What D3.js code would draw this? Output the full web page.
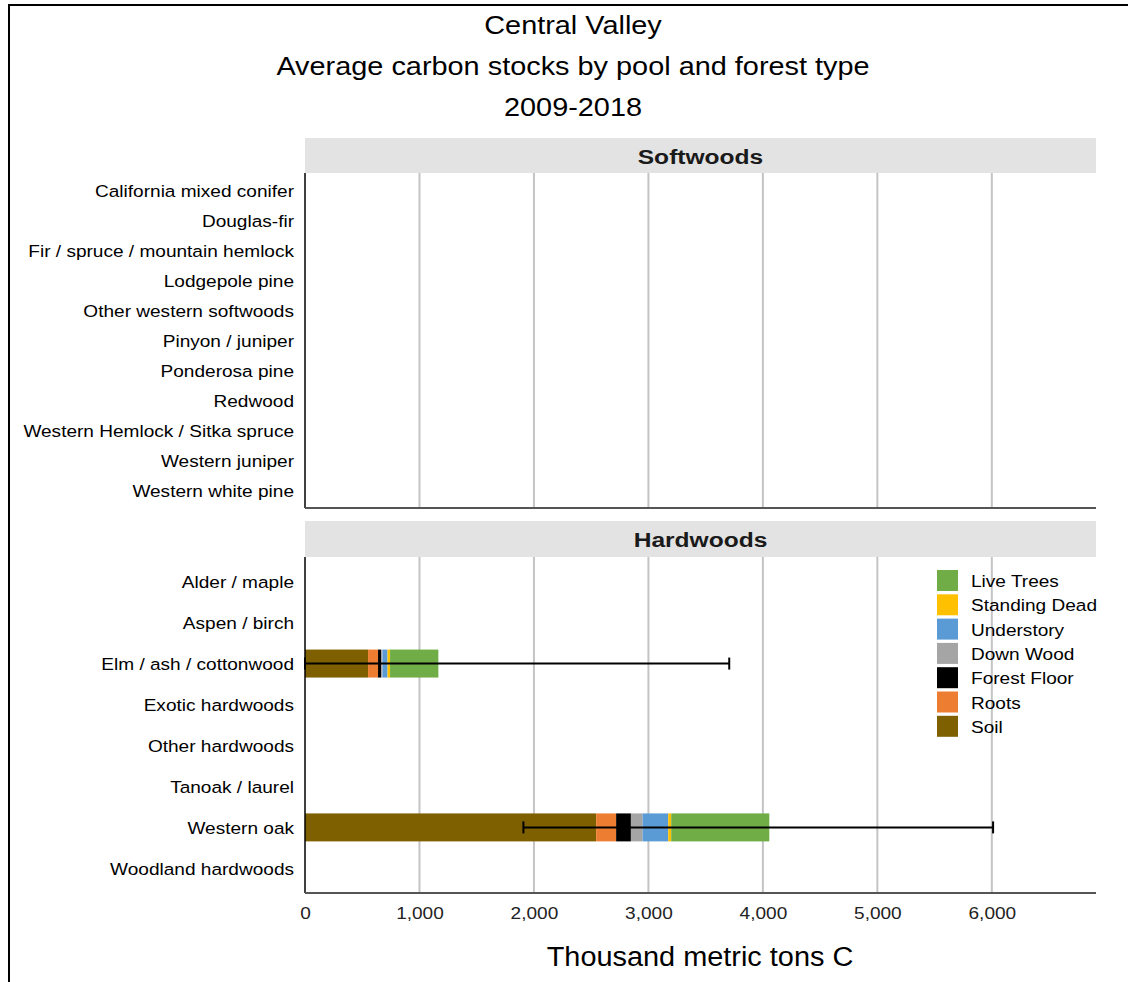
<!DOCTYPE html>
<html>
<head>
<meta charset="utf-8">
<script src="https://cdn.jsdelivr.net/npm/d3@7"></script>
<style>
  body { margin: 0; background: #fff; }
  svg { display: block; font-family: "Liberation Sans", Arial, sans-serif; }
</style>
</head>
<body>
<svg id="chart" width="1128" height="982"></svg>
<script>
// chart text
var titleLines = ["Central Valley", "Average carbon stocks by pool and forest type", "2009-2018"];
var xTitle = "Thousand metric tons C";

// forest types
var softwoodTypes = ["California mixed conifer", "Douglas-fir", "Fir / spruce / mountain hemlock",
    "Lodgepole pine", "Other western softwoods", "Pinyon / juniper", "Ponderosa pine", "Redwood",
    "Western Hemlock / Sitka spruce", "Western juniper", "Western white pine"];
var hardwoodTypes = ["Alder / maple", "Aspen / birch", "Elm / ash / cottonwood", "Exotic hardwoods",
    "Other hardwoods", "Tanoak / laurel", "Western oak", "Woodland hardwoods"];

// pools, stacked left to right
var pools = ["Soil", "Roots", "Forest Floor", "Down Wood", "Understory", "Standing Dead", "Live Trees"];
var poolColors = ["#7f6000", "#ed7d31", "#000000", "#a5a5a5", "#5b9bd5", "#ffc000", "#70ad47"];
var legendOrder = ["Live Trees", "Standing Dead", "Understory", "Down Wood", "Forest Floor", "Roots", "Soil"];

// hardwood values (thousand metric tons C), one per hardwoodTypes entry
var soil         = [0, 0, 551, 0, 0, 0, 2544, 0];
var roots        = [0, 0, 87, 0, 0, 0, 174, 0];
var forestFloor  = [0, 0, 26, 0, 0, 0, 129, 0];
var downWood     = [0, 0, 13, 0, 0, 0, 102, 0];
var understory   = [0, 0, 44, 0, 0, 0, 224, 0];
var standingDead = [0, 0, 22, 0, 0, 0, 26, 0];
var liveTrees    = [0, 0, 422, 0, 0, 0, 857, 0];

// error bars on the total
var errLow  = [null, null, 0, null, null, null, 1908, null];
var errHigh = [null, null, 3706, null, null, null, 6011, null];

var xTicks = [0, 1000, 2000, 3000, 4000, 5000, 6000];

var svg = d3.select("#chart");

var x = d3.scaleLinear().domain([0, 6910]).range([305, 1096]);
var color = d3.scaleOrdinal().domain(pools).range(poolColors);

// the source text is a bit wider than Liberation Sans at the same height
var SX = 1.155;
function place(px, py, sx) {
    return "translate(" + px + "," + py + ") scale(" + (sx || SX) + ",1)";
}

// outer frame
svg.append("line").attr("x1", 9).attr("x2", 9).attr("y1", 4).attr("y2", 982)
    .attr("stroke", "#000").attr("stroke-width", 2);
svg.append("line").attr("x1", 8).attr("x2", 1128).attr("y1", 5).attr("y2", 5)
    .attr("stroke", "#000").attr("stroke-width", 2);

// titles
svg.selectAll("text.title")
    .data(titleLines)
    .enter().append("text")
    .attr("class", "title")
    .attr("transform", function (d, i) { return place(573, 34 + i * 41); })
    .attr("text-anchor", "middle")
    .attr("font-size", 25)
    .attr("fill", "#000")
    .text(function (d) { return d; });

var panels = [
    {name: "Softwoods", types: softwoodTypes, stripTop: 138, top: 173, bottom: 508},
    {name: "Hardwoods", types: hardwoodTypes, stripTop: 521, top: 557, bottom: 893}
];

panels.forEach(function (p) {
    var y = d3.scaleBand().domain(p.types).range([p.top, p.bottom]).paddingInner(0.317).paddingOuter(0.26);
    p.y = y;

    svg.append("rect")
        .attr("x", 305).attr("y", p.stripTop)
        .attr("width", 1096 - 305).attr("height", p.top - p.stripTop)
        .attr("fill", "#e3e3e3");
    svg.append("text")
        .attr("transform", place((305 + 1096) / 2, (p.stripTop + p.top) / 2 + 8, 1.17))
        .attr("text-anchor", "middle")
        .attr("font-size", 21).attr("font-weight", "bold")
        .attr("fill", "#1a1a1a")
        .text(p.name);

    // vertical gridlines
    svg.selectAll(null)
        .data(xTicks.slice(1))
        .enter().append("line")
        .attr("x1", function (d) { return x(d); })
        .attr("x2", function (d) { return x(d); })
        .attr("y1", p.top).attr("y2", p.bottom)
        .attr("stroke", "#c4c4c4").attr("stroke-width", 2);

    // category labels
    svg.selectAll(null)
        .data(p.types)
        .enter().append("text")
        .attr("transform", function (d) { return place(294, y(d) + y.bandwidth() / 2 + 6.5); })
        .attr("text-anchor", "end")
        .attr("font-size", 16.5)
        .attr("fill", "#000")
        .text(function (d) { return d; });
});

// stacked bars (hardwoods only carry values)
var hw = panels[1];
var rows = hardwoodTypes.map(function (t, i) {
    return {
        type: t, "Soil": soil[i], "Roots": roots[i], "Forest Floor": forestFloor[i],
        "Down Wood": downWood[i], "Understory": understory[i],
        "Standing Dead": standingDead[i], "Live Trees": liveTrees[i],
        lo: errLow[i], hi: errHigh[i]
    };
});
var series = d3.stack().keys(pools)(rows);

svg.append("g")
    .selectAll("g")
    .data(series)
    .enter().append("g")
    .attr("fill", function (d) { return color(d.key); })
    .selectAll("rect")
    .data(function (d) { return d; })
    .enter().append("rect")
    .attr("x", function (d) { return x(d[0]); })
    .attr("y", function (d) { return hw.y(d.data.type); })
    .attr("width", function (d) { return x(d[1]) - x(d[0]); })
    .attr("height", hw.y.bandwidth());

// error bars
var errRows = rows.filter(function (r) { return r.hi != null; });
var eb = svg.append("g").attr("stroke", "#000").attr("stroke-width", 2);
errRows.forEach(function (r) {
    var cy = hw.y(r.type) + hw.y.bandwidth() / 2;
    eb.append("line").attr("x1", x(r.lo)).attr("x2", x(r.hi)).attr("y1", cy).attr("y2", cy);
    eb.append("line").attr("x1", x(r.lo)).attr("x2", x(r.lo)).attr("y1", cy - 6).attr("y2", cy + 6);
    eb.append("line").attr("x1", x(r.hi)).attr("x2", x(r.hi)).attr("y1", cy - 6).attr("y2", cy + 6);
});

// axis lines
panels.forEach(function (p) {
    svg.append("line").attr("x1", 305).attr("x2", 305).attr("y1", p.top).attr("y2", p.bottom)
        .attr("stroke", "#000").attr("stroke-width", 1.5);
    svg.append("line").attr("x1", 305).attr("x2", 1096).attr("y1", p.bottom).attr("y2", p.bottom)
        .attr("stroke", "#555").attr("stroke-width", 2);
});

// x axis labels below the bottom panel
var xAxis = d3.axisBottom(x).tickValues(xTicks).tickSize(0).tickPadding(14).tickFormat(d3.format(","));
var ax = svg.append("g").attr("transform", "translate(0," + hw.bottom + ")").call(xAxis);
ax.select(".domain").remove();
ax.selectAll("text")
    .attr("font-size", 16.5).attr("fill", "#222")
    .attr("font-family", "Liberation Sans, Arial, sans-serif")
    .attr("transform", "scale(" + SX + ",1)");

svg.append("text")
    .attr("transform", place(700, 966, 1.07))
    .attr("text-anchor", "middle")
    .attr("font-size", 27)
    .attr("fill", "#000")
    .text(xTitle);

// legend
var legend = svg.append("g");
legendOrder.forEach(function (k, i) {
    var ly = 570 + i * 24.3;
    legend.append("rect").attr("x", 937).attr("y", ly).attr("width", 21).attr("height", 21)
        .attr("fill", color(k));
    legend.append("text").attr("transform", place(971, ly + 17))
        .attr("font-size", 16.5).attr("fill", "#000").text(k);
});
</script>
</body>
</html>
